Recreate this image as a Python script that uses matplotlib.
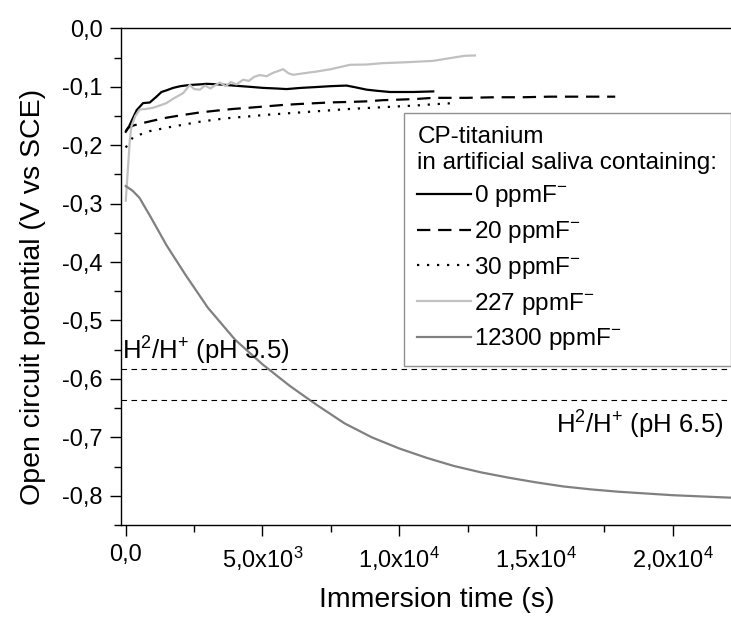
import matplotlib
matplotlib.use("Agg")
import matplotlib.pyplot as plt
from matplotlib.ticker import FixedLocator, FixedFormatter, MultipleLocator

plt.rcParams['font.family'] = ['Liberation Sans', 'DejaVu Sans']
plt.rcParams['mathtext.fontset'] = 'custom'
plt.rcParams['mathtext.rm'] = 'Liberation Sans'
plt.rcParams['mathtext.it'] = 'Liberation Sans:italic'
plt.rcParams['mathtext.bf'] = 'Liberation Sans:bold'

# ---------------- data ----------------
t_0 = [0, 100, 208, 400, 633, 878, 1100, 1306, 1500, 1730, 2000, 2342, 2700, 2953,
       3400, 3928, 4500, 5025, 5500, 5880, 6400, 6977, 7500, 8075, 8400, 8807, 9200,
       9660, 10100, 10513, 11245]
v_0 = [-0.177, -0.170, -0.159, -0.140, -0.128, -0.127, -0.118, -0.109, -0.106, -0.102,
       -0.099, -0.097, -0.096, -0.095, -0.096, -0.098, -0.100, -0.102, -0.103, -0.104,
       -0.102, -0.1005, -0.099, -0.098, -0.101, -0.105, -0.107, -0.109, -0.109, -0.109,
       -0.108]

t_20 = [0, 85, 300, 633, 1000, 1489, 2000, 2708, 3300, 3928, 4500, 5147, 5800, 6366,
        7000, 7585, 8200, 8805, 9400, 10025, 10600, 11245, 12465, 13500, 14500, 15500,
        16500, 17900]
v_20 = [-0.176, -0.170, -0.166, -0.162, -0.158, -0.153, -0.149, -0.144, -0.141, -0.138,
        -0.136, -0.1335, -0.131, -0.1295, -0.128, -0.1267, -0.126, -0.125, -0.123, -0.122,
        -0.121, -0.119, -0.119, -0.118, -0.118, -0.117, -0.117, -0.117]

t_30 = [0, 268, 878, 1500, 2097, 2700, 3318, 3900, 4537, 5150, 5757, 6370, 6977, 7590,
        8196, 8800, 9415, 10025, 10635, 11245, 12000]
v_30 = [-0.204, -0.186, -0.176, -0.170, -0.165, -0.160, -0.156, -0.153, -0.1506, -0.148,
        -0.146, -0.144, -0.142, -0.140, -0.138, -0.1365, -0.135, -0.1335, -0.132, -0.130,
        -0.128]

t_227 = [0, 80, 150, 208, 350, 512, 750, 999, 1250, 1489, 1750, 2097, 2342, 2500, 2708,
         2900, 3100, 3250, 3440, 3650, 3850, 4050, 4294, 4500, 4700, 4903, 5150, 5400,
         5757, 5950, 6123, 6500, 6977, 7500, 8196, 8800, 9415, 10300, 11245, 12000,
         12400, 12770]
v_227 = [-0.295, -0.240, -0.190, -0.168, -0.150, -0.139, -0.138, -0.136, -0.132, -0.128,
         -0.120, -0.111, -0.097, -0.104, -0.105, -0.098, -0.103, -0.098, -0.093, -0.099,
         -0.092, -0.096, -0.088, -0.090, -0.083, -0.080, -0.082, -0.076, -0.070, -0.077,
         -0.0796, -0.077, -0.074, -0.070, -0.0625, -0.062, -0.0596, -0.058, -0.0557,
         -0.050, -0.047, -0.0465]

t_12300 = [0, 250, 500, 900, 1500, 2200, 3000, 4000, 5000, 6000, 7000, 8000, 9000,
           10000, 11000, 12000, 13000, 14000, 15000, 16000, 17000, 18000, 19000, 20000,
           21000, 22000, 22600]
v_12300 = [-0.270, -0.278, -0.290, -0.322, -0.372, -0.423, -0.478, -0.533, -0.575,
           -0.612, -0.645, -0.676, -0.700, -0.719, -0.735, -0.749, -0.760, -0.769,
           -0.777, -0.784, -0.789, -0.793, -0.796, -0.799, -0.801, -0.803, -0.804]

labels = ["0 ppmF$^{-}$", "20 ppmF$^{-}$", "30 ppmF$^{-}$", "227 ppmF$^{-}$",
          "12300 ppmF$^{-}$"]

h2_ph55 = -0.583
h2_ph65 = -0.636

x_ticks = [0, 5000, 10000, 15000, 20000]
x_tick_labels = ["0,0", "5,0x10$^{3}$", "1,0x10$^{4}$", "1,5x10$^{4}$", "2,0x10$^{4}$"]
y_ticks = [0.0, -0.1, -0.2, -0.3, -0.4, -0.5, -0.6, -0.7, -0.8]
y_tick_labels = ["0,0", "-0,1", "-0,2", "-0,3", "-0,4", "-0,5", "-0,6", "-0,7", "-0,8"]

# ---------------- figure ----------------
W, H = 731, 619
fig = plt.figure(figsize=(W / 100, H / 100), dpi=100)
ax_left, ax_right, ax_top, ax_bottom = 120.7, 741.0, 28.3, 525.0
ax = fig.add_axes([ax_left / W, 1 - ax_bottom / H, (ax_right - ax_left) / W,
                   (ax_bottom - ax_top) / H])

lw = 1.6
ax.plot(t_0, v_0, color='black', lw=lw, label=labels[0])
ax.plot(t_20, v_20, color='black', lw=lw, linestyle=(0, (6, 3.5)), label=labels[1])
ax.plot(t_30, v_30, color='black', lw=lw, linestyle=(0, (1, 3.5)), label=labels[2])
ax.plot(t_227, v_227, color='#c0c0c0', lw=lw, label=labels[3])
ax.plot(t_12300, v_12300, color='#808080', lw=lw, label=labels[4])

ax.axhline(h2_ph55, color='black', lw=0.8, linestyle=(0, (5, 4)))
ax.axhline(h2_ph65, color='black', lw=0.8, linestyle=(0, (5, 4)))

ax.text(-150, -0.567, "H$^{2}$/H$^{+}$ (pH 5.5)", fontsize=18.5, ha='left', va='baseline')
ax.text(15730, -0.694, "H$^{2}$/H$^{+}$ (pH 6.5)", fontsize=18.5, ha='left', va='baseline',
        clip_on=False)

ax.set_xlim(-185, 22500)
ax.set_ylim(-0.85, 0.0)

ax.xaxis.set_major_locator(FixedLocator(x_ticks))
ax.xaxis.set_major_formatter(FixedFormatter(x_tick_labels))
ax.xaxis.set_minor_locator(MultipleLocator(2500))
ax.yaxis.set_major_locator(FixedLocator(y_ticks))
ax.yaxis.set_major_formatter(FixedFormatter(y_tick_labels))
ax.yaxis.set_minor_locator(MultipleLocator(0.05))

ax.tick_params(which='major', direction='out', length=8, width=1.0, labelsize=17, pad=5)
ax.tick_params(axis='x', which='major', pad=6)
ax.tick_params(which='minor', direction='out', length=5, width=1.0)
ax.tick_params(top=False, right=False, which='both')
for s in ax.spines.values():
    s.set_linewidth(1.0)

ax.set_xlabel("Immersion time (s)", fontsize=20.5)
ax.set_ylabel("Open circuit potential (V vs SCE)", fontsize=20.5)
ax.xaxis.set_label_coords(0.51, -0.125)
ax.yaxis.set_label_coords(-0.12, 0.459)

leg = ax.legend(title="CP-titanium\nin artificial saliva containing:",
                loc='upper left', bbox_to_anchor=(0.4567, 0.8295), borderaxespad=0,
                frameon=True, fancybox=False, edgecolor='#909090', framealpha=1,
                fontsize=17.5, title_fontsize=17.5, handlelength=2.2, handletextpad=0.15,
                labelspacing=0.4, borderpad=0.55, alignment='left')
leg.get_frame().set_linewidth(1.0)

fig.savefig("out.png", dpi=100)
